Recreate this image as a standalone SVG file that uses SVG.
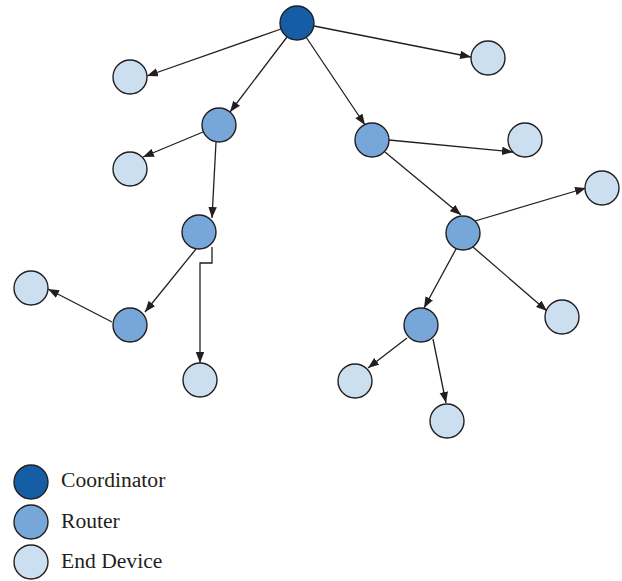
<svg xmlns="http://www.w3.org/2000/svg" width="622" height="581" viewBox="0 0 622 581">
<style>
.n{stroke:#231f20;stroke-width:1.4}
.co{fill:#155ea6}
.ro{fill:#77a6d8}
.en{fill:#cbdff0}
.e{fill:none;stroke:#231f20;stroke-width:1.3;marker-end:url(#ah)}
.t{font-family:"Liberation Serif","Times New Roman",serif;font-size:21.6px;fill:#231f20}
</style>
<defs>
<marker id="ah" markerUnits="userSpaceOnUse" markerWidth="12" markerHeight="9" refX="11" refY="4.25" orient="auto">
<path d="M0,0 L11,4.25 L0,8.5 z" fill="#231f20"/>
</marker>
</defs>
<rect width="622" height="581" fill="#ffffff"/>
<g id="connectors">
<line class="e" x1="281" y1="29" x2="147" y2="76"/>
<line class="e" x1="314" y1="26" x2="471" y2="57"/>
<line class="e" x1="287" y1="37" x2="230" y2="112"/>
<line class="e" x1="306" y1="37" x2="365" y2="125"/>
<line class="e" x1="203" y1="132" x2="143" y2="157"/>
<line class="e" x1="216" y1="142" x2="212" y2="218"/>
<line class="e" x1="389" y1="140" x2="513" y2="152"/>
<line class="e" x1="385" y1="152" x2="461" y2="215"/>
<line class="e" x1="196" y1="249" x2="145" y2="312"/>
<path class="e" d="M212,247 V263 H200 V363"/>
<line class="e" x1="112" y1="322" x2="48" y2="289"/>
<line class="e" x1="475" y1="221" x2="586" y2="188"/>
<line class="e" x1="456" y1="249" x2="424" y2="308"/>
<line class="e" x1="473" y1="247" x2="547" y2="311"/>
<line class="e" x1="407" y1="338" x2="368" y2="368"/>
<line class="e" x1="433" y1="339" x2="446" y2="403"/>
</g>
<g id="coordinator"><circle class="n co" cx="297" cy="23" r="17"/></g>
<g id="end1"><circle class="n en" cx="130" cy="77" r="17"/></g>
<g id="end2"><circle class="n en" cx="488" cy="58" r="17"/></g>
<g id="router1"><circle class="n ro" cx="219" cy="125" r="17"/></g>
<g id="router2"><circle class="n ro" cx="372" cy="140" r="17"/></g>
<g id="end3"><circle class="n en" cx="130" cy="169" r="17"/></g>
<g id="end4"><circle class="n en" cx="525" cy="140" r="17"/></g>
<g id="router3"><circle class="n ro" cx="199" cy="232" r="17"/></g>
<g id="end5"><circle class="n en" cx="602" cy="188" r="17"/></g>
<g id="router4"><circle class="n ro" cx="463" cy="233" r="17"/></g>
<g id="end6"><circle class="n en" cx="31" cy="288" r="17"/></g>
<g id="router5"><circle class="n ro" cx="130" cy="325" r="17"/></g>
<g id="end7"><circle class="n en" cx="562" cy="317" r="17"/></g>
<g id="router6"><circle class="n ro" cx="421" cy="325" r="17"/></g>
<g id="end8"><circle class="n en" cx="200" cy="380" r="17"/></g>
<g id="end9"><circle class="n en" cx="355" cy="381" r="17"/></g>
<g id="end10"><circle class="n en" cx="447" cy="421" r="17"/></g>
<g id="legend">
<circle class="n co" cx="31" cy="482" r="17"/>
<text class="t" x="61" y="487">Coordinator</text>
<circle class="n ro" cx="31" cy="522" r="17"/>
<text class="t" x="61" y="528">Router</text>
<circle class="n en" cx="31" cy="562" r="17"/>
<text class="t" x="61" y="568">End Device</text>
</g>
</svg>
